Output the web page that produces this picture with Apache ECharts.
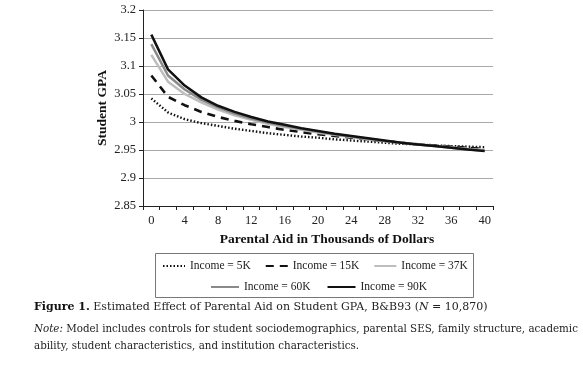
<!DOCTYPE html>
<html><head><meta charset="utf-8">
<script src="https://cdn.jsdelivr.net/npm/echarts@6/dist/echarts.min.js"></script>
<style>html,body{margin:0;padding:0;background:#fff}#c{width:583px;height:368px}</style>
</head><body><div id="c"></div>
<script>
const categories = ['0','2','4','6','8','10','12','14','16','18','20','22','24','26','28','30','32','34','36','38','40'];
const income5K  = [3.042,3.017,3.005,2.998,2.993,2.988,2.984,2.980,2.977,2.974,2.972,2.969,2.967,2.965,2.963,2.961,2.960,2.958,2.957,2.956,2.955];
const income15K = [3.083,3.045,3.030,3.018,3.009,3.002,2.996,2.991,2.986,2.982,2.978,2.975,2.972,2.969,2.966,2.963,2.960,2.958,2.956,2.954,2.952];
const income37K = [3.120,3.072,3.050,3.035,3.022,3.012,3.004,2.997,2.991,2.986,2.981,2.977,2.973,2.969,2.966,2.963,2.960,2.957,2.955,2.952,2.950];
const income60K = [3.139,3.083,3.058,3.040,3.026,3.015,3.006,2.999,2.993,2.988,2.983,2.978,2.974,2.970,2.966,2.963,2.960,2.957,2.954,2.951,2.949];
const income90K = [3.156,3.094,3.065,3.044,3.029,3.018,3.009,3.001,2.995,2.989,2.984,2.979,2.975,2.971,2.967,2.963,2.960,2.957,2.954,2.951,2.948];
const seriesNames = ['Income = 5K','Income = 15K','Income = 37K','Income = 60K','Income = 90K'];

const serif = '"Liberation Serif", "Times New Roman", serif';
const cap = '"DejaVu Serif", serif';
const chart = echarts.init(document.getElementById('c'), null, {renderer:'canvas'});
function mk(name, data, color, type, width){
  return {name, type:'line', data, symbol:'none', smooth:false, animation:false,
    lineStyle:{color, width, type}, itemStyle:{color}};
}
const legendCommon = {itemHeight:10, padding:0,
  itemStyle:{opacity:0, borderWidth:0},
  textStyle:{fontFamily:serif, fontSize:11.5, color:'#222'}};
chart.setOption({
  animation:false,
  grid:{left:143, right:90, top:10, bottom:162, containLabel:false},
  xAxis:{type:'category', data:categories, boundaryGap:true,
    name:'Parental Aid in Thousands of Dollars', nameLocation:'middle', nameGap:27, nameMoveOverlap:false,
    nameTextStyle:{fontFamily:serif, fontWeight:'bold', fontSize:13.5, color:'#111', padding:[0,0,0,18]},
    axisLine:{lineStyle:{color:'#222', width:1}},
    axisTick:{show:true, interval:0, length:4, lineStyle:{color:'#222'}},
    axisLabel:{interval:1, fontFamily:serif, fontSize:12.5, color:'#222', margin:8}},
  yAxis:{type:'value', min:2.85, max:3.2, interval:0.05,
    name:'Student GPA', nameLocation:'middle', nameGap:33, nameRotate:90, nameMoveOverlap:false,
    nameTextStyle:{fontFamily:serif, fontWeight:'bold', fontSize:13.5, color:'#111'},
    axisLine:{show:true, lineStyle:{color:'#222', width:1}},
    axisTick:{show:true, length:4, lineStyle:{color:'#222'}},
    axisLabel:{fontFamily:serif, fontSize:12.5, color:'#222', margin:7,
      formatter:v=>String(parseFloat(v.toFixed(2)))},
    splitLine:{lineStyle:{color:'#a8a8a8', width:1.2}}},
  legend:[
    Object.assign({data:seriesNames.slice(0,3), top:260, left:162, itemGap:14, itemWidth:22}, legendCommon),
    Object.assign({data:seriesNames.slice(3), top:281, left:210, itemGap:16, itemWidth:28}, legendCommon)
  ],
  graphic:[
    {type:'rect', shape:{x:155.5, y:253.5, width:318, height:44}, style:{fill:'none', stroke:'#777', lineWidth:1}},
    {type:'text', left:34, top:302, style:{
      text:'{b|Figure 1.} Estimated Effect of Parental Aid on Student GPA, B&B93 ({i|N} = 10,870)',
      font:'11px '+cap, fill:'#222',
      rich:{b:{fontWeight:'bold', fontFamily:cap, fontSize:11, fill:'#111'}, i:{fontStyle:'italic', fontFamily:cap, fontSize:11}}}},
    {type:'text', left:34, top:321, style:{
      text:'{i|Note:} Model includes controls for student sociodemographics, parental SES, family structure, academic\nability, student characteristics, and institution characteristics.',
      font:'10.3px '+cap, fill:'#222', lineHeight:17,
      rich:{i:{fontStyle:'italic', fontFamily:cap, fontSize:10.3}}}}
  ],
  series:[
    mk(seriesNames[0], income5K, '#111', [1.5,2], 2.4),
    mk(seriesNames[1], income15K, '#111', [8,6], 2.6),
    mk(seriesNames[2], income37K, '#bdbdbd', 'solid', 2.5),
    mk(seriesNames[3], income60K, '#8a8a8a', 'solid', 2.5),
    mk(seriesNames[4], income90K, '#111', 'solid', 2.5)
  ]
});
</script></body></html>
